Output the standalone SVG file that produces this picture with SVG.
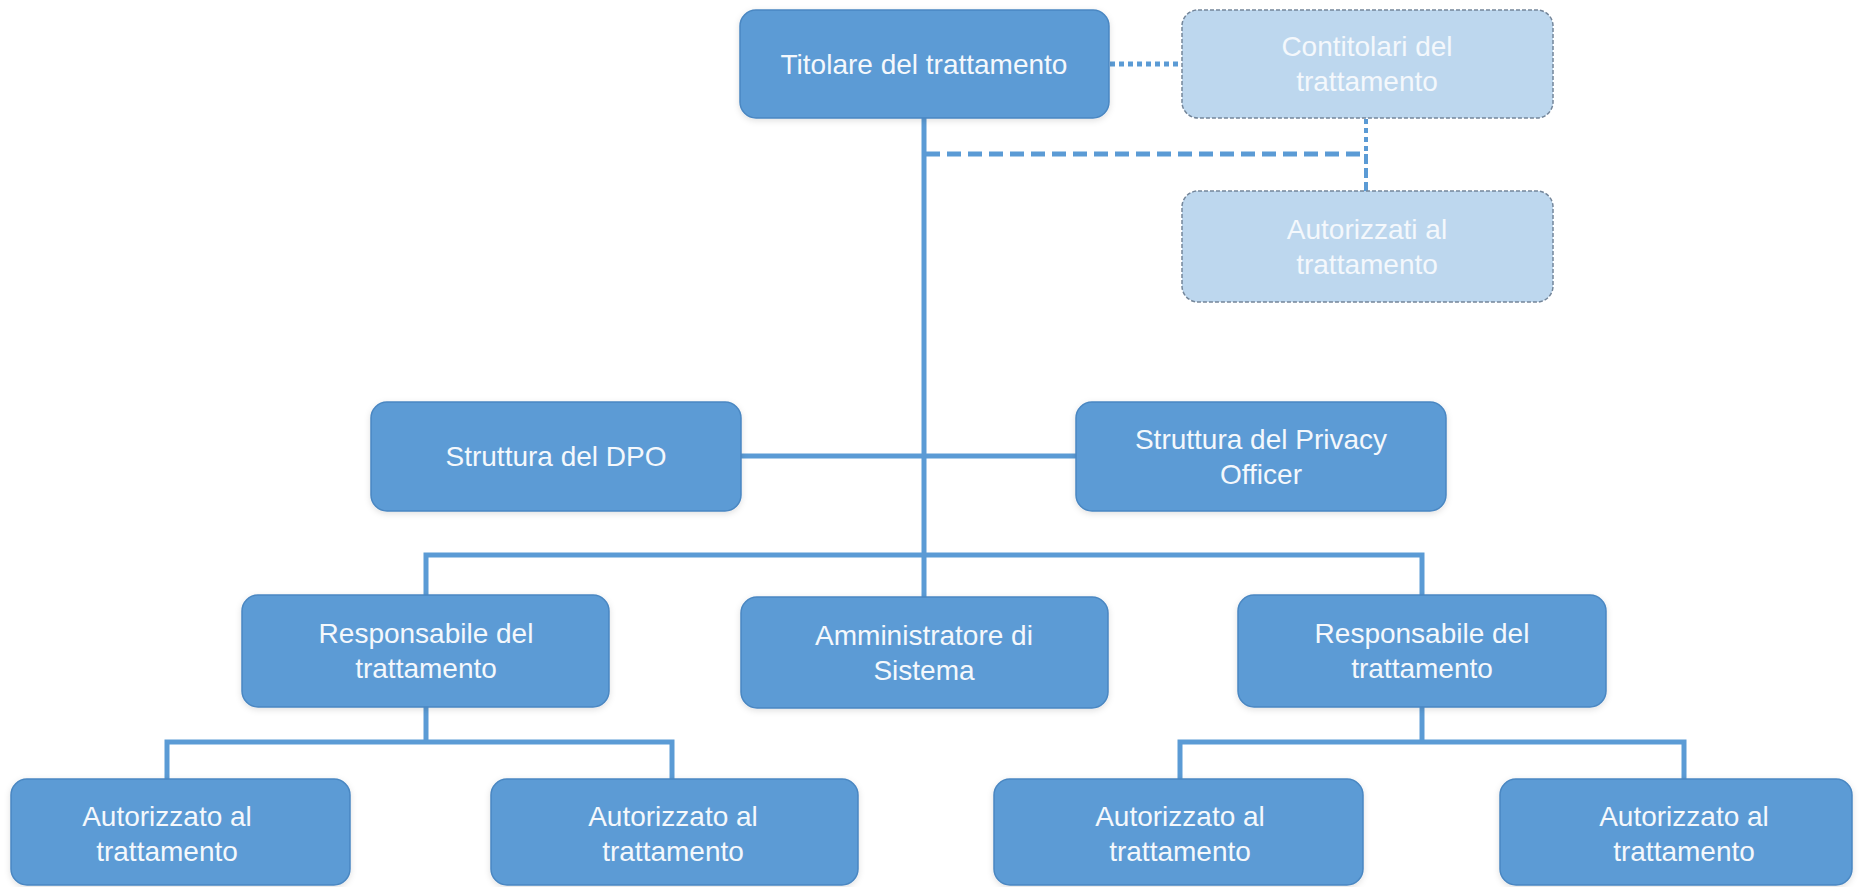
<svg xmlns="http://www.w3.org/2000/svg" width="1867" height="887" viewBox="0 0 1867 887">
<defs>
<filter id="sh" x="-10%" y="-10%" width="120%" height="130%">
<feDropShadow dx="0" dy="2" stdDeviation="3" flood-color="#000" flood-opacity="0.12"/>
</filter>
<style>
.box{fill:#5B9BD5;stroke:#4A87C2;stroke-width:1.5;filter:url(#sh)}
.lbox{fill:#BDD7EE;stroke:#74869A;stroke-width:1.5;stroke-dasharray:4 2}
.t{font-family:"Liberation Sans",Arial,sans-serif;font-size:28px;fill:#F4F8FC;text-anchor:middle}
.ln{stroke:#5B9BD5;stroke-width:5;fill:none}
.dot{stroke:#5B9BD5;stroke-width:5;fill:none;stroke-dasharray:5 4}
.dash{stroke:#5B9BD5;stroke-width:5;fill:none;stroke-dasharray:14 7}
.vdot{stroke:#5B9BD5;stroke-width:4;fill:none;stroke-dasharray:5 4}
.vdash{stroke:#5B9BD5;stroke-width:4;fill:none;stroke-dasharray:10 4}
</style>
</defs>
<rect width="1867" height="887" fill="#FFFFFF"/>
<g id="connectors">
<line class="ln" x1="924" y1="118" x2="924" y2="598"/>
<line class="dot" x1="1110" y1="64" x2="1182" y2="64"/>
<line class="dash" x1="926" y1="154" x2="1366" y2="154"/>
<line class="vdot" x1="1366" y1="119" x2="1366" y2="154"/>
<line class="vdash" x1="1366" y1="154" x2="1366" y2="191"/>
<line class="ln" x1="741" y1="456" x2="1076" y2="456"/>
<polyline class="ln" points="426,595 426,555 1422,555 1422,595"/>
<line class="ln" x1="426" y1="707" x2="426" y2="742"/>
<polyline class="ln" points="167,779 167,742 672,742 672,779"/>
<line class="ln" x1="1422" y1="707" x2="1422" y2="742"/>
<polyline class="ln" points="1180,779 1180,742 1684,742 1684,779"/>
</g>
<g id="titolare">
<rect class="box" x="740" y="10" width="369" height="108" rx="16"/>
<text class="t" x="924" y="74">Titolare del trattamento</text>
</g>
<g id="contitolari">
<rect class="lbox" x="1182" y="10" width="371" height="108" rx="16"/>
<text class="t" x="1367" y="56">Contitolari del</text>
<text class="t" x="1367" y="91">trattamento</text>
</g>
<g id="autorizzati-top">
<rect class="lbox" x="1182" y="191" width="371" height="111" rx="16"/>
<text class="t" x="1367" y="239">Autorizzati al</text>
<text class="t" x="1367" y="274">trattamento</text>
</g>
<g id="dpo">
<rect class="box" x="371" y="402" width="370" height="109" rx="16"/>
<text class="t" x="556" y="466">Struttura del DPO</text>
</g>
<g id="privacy-officer">
<rect class="box" x="1076" y="402" width="370" height="109" rx="16"/>
<text class="t" x="1261" y="449">Struttura del Privacy</text>
<text class="t" x="1261" y="484">Officer</text>
</g>
<g id="responsabile-left">
<rect class="box" x="242" y="595" width="367" height="112" rx="16"/>
<text class="t" x="426" y="643">Responsabile del</text>
<text class="t" x="426" y="678">trattamento</text>
</g>
<g id="amministratore">
<rect class="box" x="741" y="597" width="367" height="111" rx="16"/>
<text class="t" x="924" y="645">Amministratore di</text>
<text class="t" x="924" y="680">Sistema</text>
</g>
<g id="responsabile-right">
<rect class="box" x="1238" y="595" width="368" height="112" rx="16"/>
<text class="t" x="1422" y="643">Responsabile del</text>
<text class="t" x="1422" y="678">trattamento</text>
</g>
<g id="autorizzato-1">
<rect class="box" x="11" y="779" width="339" height="106" rx="16"/>
<text class="t" x="167" y="826">Autorizzato al</text>
<text class="t" x="167" y="861">trattamento</text>
</g>
<g id="autorizzato-2">
<rect class="box" x="491" y="779" width="367" height="106" rx="16"/>
<text class="t" x="673" y="826">Autorizzato al</text>
<text class="t" x="673" y="861">trattamento</text>
</g>
<g id="autorizzato-3">
<rect class="box" x="994" y="779" width="369" height="106" rx="16"/>
<text class="t" x="1180" y="826">Autorizzato al</text>
<text class="t" x="1180" y="861">trattamento</text>
</g>
<g id="autorizzato-4">
<rect class="box" x="1500" y="779" width="352" height="106" rx="16"/>
<text class="t" x="1684" y="826">Autorizzato al</text>
<text class="t" x="1684" y="861">trattamento</text>
</g>
</svg>
